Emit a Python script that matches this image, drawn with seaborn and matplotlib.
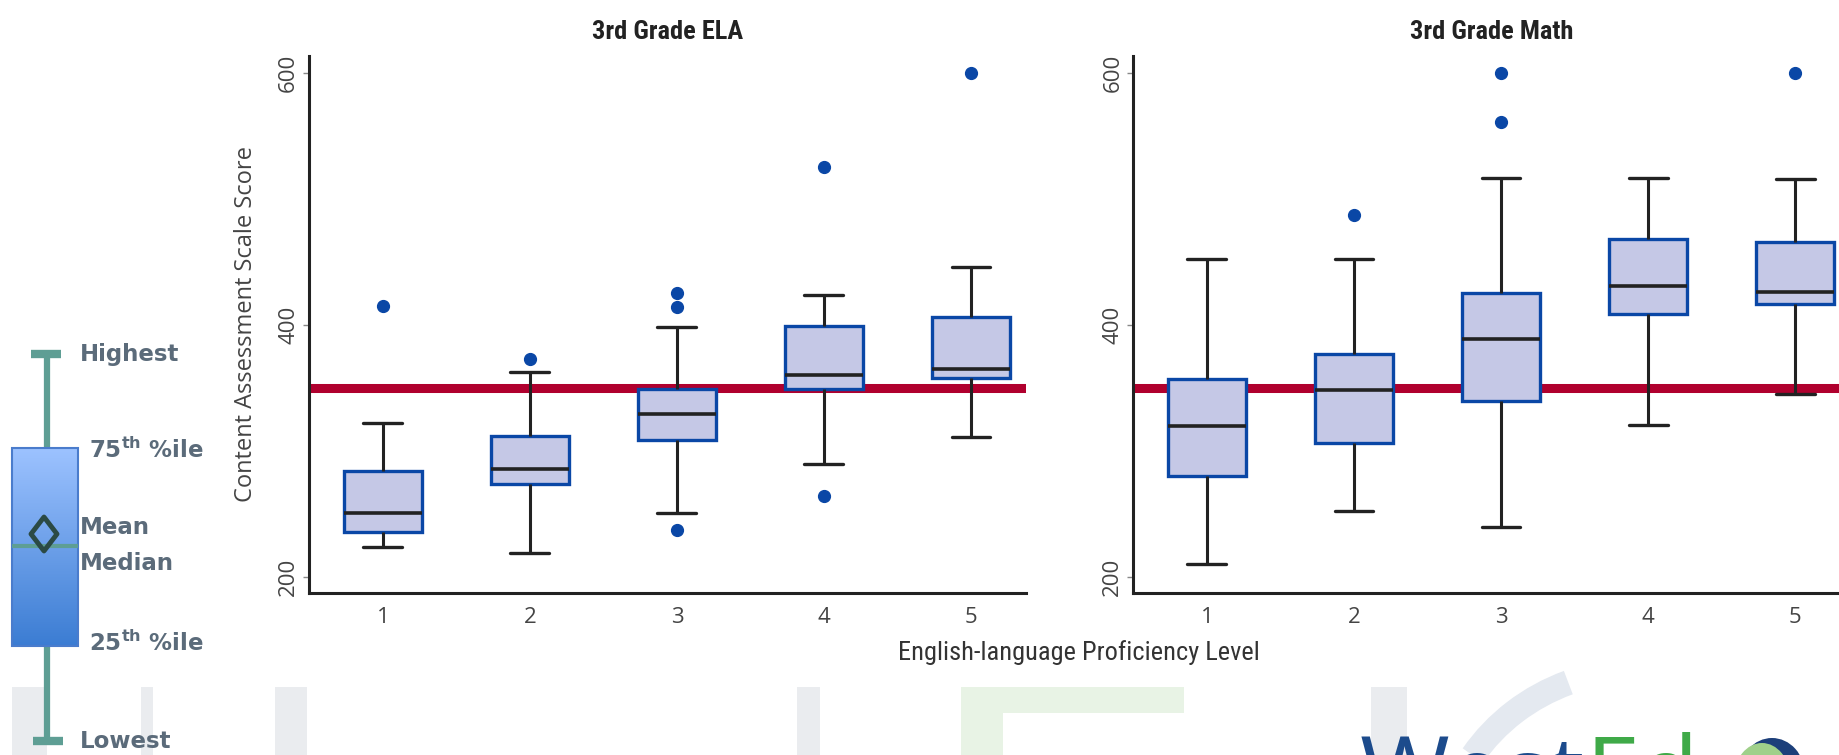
import numpy as np
import pandas as pd
import matplotlib
matplotlib.use("Agg")
import matplotlib.pyplot as plt
import seaborn as sns
from matplotlib.patches import Rectangle, Polygon, Ellipse, Arc
from matplotlib.colors import LinearSegmentedColormap

# proficiency levels on the x axis
levels = ["1", "2", "3", "4", "5"]

# scale scores per level (whisker ends, quartiles, median, outliers)
ela_1 = [224, 230, 236, 244, 251, 268, 284, 322, 415]
ela_2 = [219, 250, 274, 280, 286, 300, 312, 363, 373]
ela_3 = [237, 251, 280, 309, 315, 322, 329, 336, 343, 349, 398, 414, 425]
ela_4 = [264, 290, 349, 355, 360, 380, 399, 424, 525]
ela_5 = [311, 335, 358, 362, 365, 385, 406, 446, 600]

math_1 = [210, 280, 320, 357, 452]
math_2 = [252, 280, 306, 330, 348, 362, 377, 452, 487]
math_3 = [240, 290, 315, 340, 355, 372, 389, 400, 412, 425, 517, 561, 600]
math_4 = [321, 409, 431, 468, 517]
math_5 = [345, 390, 417, 421, 426, 446, 466, 516, 600]

cut_score = 350

BOX_FACE = "#c5c8e6"
BOX_EDGE = "#0a47a6"
DARK = "#222222"
RED = "#b0002e"
NARROW = ["Liberation Sans Narrow", "Roboto Condensed", "DejaVu Sans"]


def to_long(groups):
    rows = []
    for lev, vals in zip(levels, groups):
        for v in vals:
            rows.append((lev, v))
    return pd.DataFrame(rows, columns=["level", "score"])


df_ela = to_long([ela_1, ela_2, ela_3, ela_4, ela_5])
df_math = to_long([math_1, math_2, math_3, math_4, math_5])

sns.set_style("ticks")
plt.rcParams["font.family"] = ["Open Sans", "DejaVu Sans"]
plt.rcParams["mathtext.fontset"] = "dejavusans"

fig = plt.figure(figsize=(18.39, 7.55), dpi=100)
ax1 = fig.add_axes([0.1680, 0.2146, 0.3899, 0.7113])
ax2 = fig.add_axes([0.6161, 0.2146, 0.3899, 0.7113])

for ax, df, title in [(ax1, df_ela, "3rd Grade ELA"), (ax2, df_math, "3rd Grade Math")]:
    ax.axhline(cut_score, color=RED, lw=6.5, zorder=1)
    sns.boxplot(data=df, x="level", y="score", order=levels, ax=ax,
                width=0.53, color=BOX_FACE, saturation=1, linecolor=DARK,
                linewidth=2.2, fliersize=8.5,
                boxprops=dict(edgecolor=BOX_EDGE, linewidth=2.4, zorder=3),
                medianprops=dict(color=DARK, linewidth=2.6, zorder=4),
                whiskerprops=dict(color=DARK, linewidth=2.2, zorder=3),
                capprops=dict(color=DARK, linewidth=2.4, zorder=3),
                flierprops=dict(marker="o", markerfacecolor=BOX_EDGE,
                                markeredgecolor=BOX_EDGE, markersize=8.5))
    ax.set_xlim(-0.503, 4.374)
    ax.set_ylim(187.3, 613.5)
    ax.set_yticks([200, 400, 600])
    ax.tick_params(axis="y", length=4, width=1, color="#888888",
                   labelsize=16, labelcolor="#444444", pad=3)
    ax.tick_params(axis="x", length=0, pad=10, labelsize=16, labelcolor="#444444")
    plt.setp(ax.get_yticklabels(), rotation=90, va="center", ha="right")
    ax.set_xlabel("")
    ax.set_ylabel("")
    ax.set_title(title, fontsize=19, family=NARROW, fontweight="semibold",
                 color=DARK, pad=12)
    sns.despine(ax=ax)
    for s in ["left", "bottom"]:
        ax.spines[s].set_linewidth(2.2)
        ax.spines[s].set_color(DARK)

ax1.set_ylabel("Content Assessment Scale Score", fontsize=17, color="#444444")
ax1.yaxis.set_label_coords(-0.071, 0.5)

fig.text(1079 / 1839, 1 - 653 / 755, "English-language Proficiency Level",
         ha="center", va="center", fontsize=19, family=NARROW, color="#333333")

# overlay in pixel coordinates for the key and the footer watermark
ov = fig.add_axes([0, 0, 1, 1])
ov.patch.set_alpha(0)

# faint watermark pieces at the bottom
wm_gray = "#eaecef"
for x0, x1 in [(12, 47), (141, 153), (275, 307), (797, 820), (1371, 1407)]:
    ov.add_patch(Rectangle((x0, 687), x1 - x0, 70, color=wm_gray, lw=0, zorder=0))
ov.add_patch(Rectangle((961, 687), 223, 26, color="#e8f3e5", lw=0, zorder=0))
ov.add_patch(Rectangle((961, 687), 42, 70, color="#e8f3e5", lw=0, zorder=0))
ov.add_patch(Arc((1640, 860), 400, 380, theta1=212, theta2=248,
                 edgecolor="#e4e9f0", lw=18, zorder=0))

# small logo, mostly cut off at the bottom edge
t_w = ov.text(1360, 732, "West", fontsize=70, color="#1c4b8c", va="top", ha="left")
ov.annotate("Ed", xy=(1, 1), xycoords=t_w, va="top", ha="left",
            fontsize=70, color="#3faa48")
ov.add_patch(Ellipse((1772, 775), 66, 74, color="#1c3f7a", lw=0, zorder=1))
ov.add_patch(Ellipse((1762, 778), 56, 70, color="#9fd08a", lw=0, zorder=2))

# box plot key on the left
teal = "#5e9e94"
grad = LinearSegmentedColormap.from_list("key", ["#9cc2ff", "#3c7dd3"])
ov.imshow(np.linspace(0, 1, 100).reshape(-1, 1), extent=(12, 78, 646, 448),
          cmap=grad, aspect="auto", zorder=2)
ov.add_patch(Rectangle((12, 448), 66, 198, fill=False, edgecolor="#4a7ccc", lw=1.5, zorder=3))
ov.plot([47, 47], [354, 448], color=teal, lw=4.5, solid_capstyle="butt", zorder=2)
ov.plot([47, 47], [646, 741], color=teal, lw=4.5, solid_capstyle="butt", zorder=2)
ov.plot([31, 61], [354, 354], color=teal, lw=6, solid_capstyle="butt", zorder=2)
ov.plot([33, 63], [741, 741], color=teal, lw=6, solid_capstyle="butt", zorder=2)
ov.plot([12, 78], [546, 546], color=teal, lw=3, solid_capstyle="butt", zorder=4)
ov.add_patch(Polygon([(44, 517), (57, 534), (44, 551), (31, 534)], closed=True,
                     fill=False, edgecolor="#2b4a44", lw=3.5, joinstyle="round", zorder=5))

key_style = dict(va="center", ha="left", fontsize=16.5, fontweight="bold",
                 color="#5b6b7a", family="DejaVu Sans")
ov.text(80, 355, "Highest", **key_style)
ov.text(89, 450, r"75$^{\mathbf{th}}$ %ile", **key_style)
ov.text(80, 528, "Mean", **key_style)
ov.text(80, 563, "Median", **key_style)
ov.text(89, 643, r"25$^{\mathbf{th}}$ %ile", **key_style)
ov.text(80, 741, "Lowest", **key_style)

ov.set_xlim(0, 1839)
ov.set_ylim(755, 0)
ov.axis("off")

fig.savefig("out.png", dpi=100)
